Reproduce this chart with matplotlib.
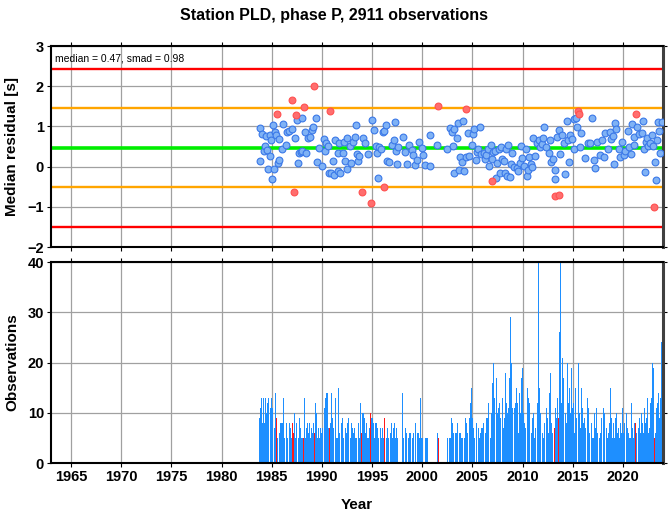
import matplotlib
matplotlib.use('Agg')
import matplotlib.pyplot as plt
import numpy as np

plt.rcParams['font.family'] = ['Liberation Sans', 'DejaVu Sans']

# Summary numbers
median_res = 0.47
smad = 0.98

# Monthly medians of residuals (decimal year, seconds)
blue_year = [1983.8, 1983.8, 1984.0, 1984.2, 1984.3, 1984.4, 1984.5, 1984.6, 1984.8, 1984.8,
             1984.9, 1985.0, 1985.1, 1985.2, 1985.3, 1985.4, 1985.6, 1985.7, 1985.7, 1986.0,
             1986.1, 1986.4, 1986.5, 1986.7, 1987.0, 1987.3, 1987.5, 1987.6, 1987.7, 1987.9,
             1988.0, 1988.0, 1988.3, 1988.4, 1988.6, 1988.8, 1989.0, 1989.1, 1989.4, 1989.5,
             1989.7, 1990.0, 1990.2, 1990.3, 1990.4, 1990.6, 1990.7, 1990.9, 1991.1, 1991.2,
             1991.3, 1991.6, 1991.6, 1991.7, 1991.8, 1992.1, 1992.2, 1992.3, 1992.5, 1992.5,
             1992.8, 1992.9, 1993.1, 1993.3, 1993.4, 1993.5, 1993.6, 1993.7, 1994.1, 1994.3,
             1994.6, 1995.0, 1995.2, 1995.4, 1995.5, 1995.6, 1995.7, 1995.9, 1996.1, 1996.2,
             1996.4, 1996.5, 1996.7, 1997.0, 1997.2, 1997.3, 1997.4, 1997.5, 1997.6, 1998.1,
             1998.3, 1998.5, 1998.7, 1999.0, 1999.1, 1999.3, 1999.5, 1999.7, 2000.0, 2000.1,
             2000.3, 2000.8, 2000.8, 2001.5,
             2002.5, 2002.8, 2003.0, 2003.1, 2003.2, 2003.2, 2003.5, 2003.6, 2003.7, 2003.8,
             2004.0, 2004.1, 2004.2, 2004.4, 2004.6, 2004.7, 2005.0, 2005.1, 2005.2, 2005.4,
             2005.5, 2005.6, 2005.8, 2005.9, 2006.2, 2006.3, 2006.4, 2006.6, 2006.7, 2006.9,
             2007.0, 2007.1, 2007.3, 2007.4, 2007.5, 2007.7, 2007.8, 2007.9, 2008.0, 2008.2,
             2008.3, 2008.4, 2008.5, 2008.6, 2008.8, 2008.9, 2009.0, 2009.2, 2009.4, 2009.5,
             2009.7, 2009.8, 2009.9, 2010.1, 2010.3, 2010.4, 2010.5, 2010.6, 2010.8, 2010.9,
             2011.0, 2011.2, 2011.4, 2011.6, 2011.7, 2011.9, 2012.0, 2012.1, 2012.3, 2012.6,
             2012.7, 2012.8, 2013.0, 2013.2, 2013.2, 2013.4, 2013.6, 2013.7, 2013.9, 2014.1,
             2014.2, 2014.4, 2014.5, 2014.6, 2014.7, 2014.9, 2015.1, 2015.1, 2015.3, 2015.4,
             2015.7, 2015.8, 2016.2, 2016.5, 2016.7, 2016.9, 2017.1, 2017.2, 2017.4, 2017.7,
             2017.9, 2018.1, 2018.2, 2018.5, 2018.7, 2018.8, 2019.0, 2019.1, 2019.2, 2019.3,
             2019.6, 2019.7, 2019.9, 2020.1, 2020.2, 2020.5, 2020.6, 2020.8, 2020.9, 2021.1,
             2021.1, 2021.4, 2021.6, 2021.9, 2022.0, 2022.1, 2022.2, 2022.3, 2022.4, 2022.5,
             2022.7, 2022.9, 2023.0, 2023.2, 2023.3, 2023.4, 2023.5, 2023.6, 2023.7, 2023.9]
blue_res = [0.95, 0.15, 0.81, 0.40, 0.51, 0.76, 0.41, -0.05, 0.26, 0.78,
            0.66, -0.30, 1.04, -0.05, 0.87, 0.78, 0.10, 0.16, 0.68, 0.43,
            1.06, 0.54, 0.87, 0.89, 0.94, 0.70, 1.15, 0.10, 0.33, 0.36,
            0.40, 1.22, 0.87, 0.33, 0.70, 0.73, 0.91, 0.99, 1.21, 0.12,
            0.47, 0.02, 0.68, 0.40, 0.58, 0.51, -0.15, -0.17, 0.14, -0.20,
            0.65, 0.33, -0.11, 0.60, -0.15, 0.34, 0.62, 0.15, 0.72, -0.07,
            0.51, 0.08, 0.61, 0.73, 1.04, 0.31, 0.15, 0.27, 0.70, 0.60,
            0.32, 1.16, 0.91, 0.51, 0.33, -0.29, 0.48, 0.43, 0.86, 0.89,
            1.04, 0.14, 0.12, 0.54, 0.66, 1.12, 0.40, 0.06, 0.48, 0.73,
            0.37, 0.07, 0.54, 0.41, 0.29, 0.03, 0.16, 0.62, 0.47, 0.29,
            0.04, 0.02, 0.78, 0.55,
            0.43, 0.97, 0.87, 0.52, -0.17, 0.94, 0.72, 1.09, -0.08, 0.23,
            0.12, 1.14, -0.11, 0.25, 0.83, 0.27, 0.53, 0.81, 0.93, 0.16,
            0.37, 0.43, 0.99, 0.31, 0.35, 0.20, 0.29, 0.43, 0.02, 0.53,
            0.18, 0.37, 0.40, -0.29, 0.08, 0.43, -0.17, 0.48, 0.18, 0.15,
            -0.17, 0.43, -0.23, 0.54, -0.25, 0.07, 0.33, 0.00, -0.04, -0.10,
            0.10, 0.51, 0.21, 0.02, 0.43, -0.23, -0.08, 0.25, 0.07, 0.00,
            0.71, 0.26, 0.60, 0.66, 0.50, 0.56, 0.70, 0.98, 0.48, 0.35,
            0.66, 0.12, 0.19, -0.08, -0.32, 0.73, 0.91, 0.31, 0.79, 0.58,
            -0.18, 1.14, 0.66, 0.12, 0.79, 0.68, 1.18, 0.43, 1.21, 0.99,
            0.48, 0.83, 0.22, 0.58, 0.60, 1.21, 0.16, -0.04, 0.62, 0.29,
            0.66, 0.25, 0.84, 0.45, 0.87, 0.68, 0.75, 0.07, 1.09, 0.93,
            0.43, 0.25, 0.62, 0.29, 0.40, 0.89, 0.48, 0.31, 1.06, 0.73,
            0.54, 0.98, 0.81, 0.83, 1.14, 0.43, -0.14, 0.62, 0.72, 0.51,
            0.60, 0.78, 0.51, 0.12, -0.33, 0.65, 1.12, 0.89, 0.33, 1.12]

# Outlier months
red_year = [1985.5, 1987.0, 1987.2, 1987.4, 1988.2, 1989.2, 1990.8, 1994.0, 1994.9, 1996.2,
            2001.6, 2004.4, 2007.0, 2013.2, 2013.6, 2015.5, 2015.6, 2021.3, 2023.1]
red_res = [1.30, 1.66, -0.64, 1.28, 1.48, 2.01, 1.39, -0.63, -0.90, -0.50,
           1.52, 1.43, -0.37, -0.74, -0.70, 1.39, 1.32, 1.31, -1.00]

# Observations per month, Jan..Dec
obs_years = list(range(1983, 2024))
obs_counts = [
    [0, 0, 0, 0, 0, 0, 0, 0, 0, 9, 11, 13],        # 1983
    [8, 0, 13, 8, 13, 10, 5, 12, 13, 0, 11, 13],    # 1984
    [11, 5, 0, 7, 14, 9, 5, 13, 0, 6, 8, 8],        # 1985
    [8, 13, 13, 5, 0, 8, 5, 10, 0, 8, 7, 5],        # 1986
    [8, 0, 6, 10, 5, 8, 0, 7, 5, 9, 7, 5],          # 1987
    [5, 5, 0, 13, 5, 7, 8, 0, 6, 8, 5, 7],          # 1988
    [6, 8, 0, 6, 12, 10, 5, 0, 7, 5, 7, 6],         # 1989
    [7, 0, 9, 11, 13, 14, 14, 7, 9, 7, 8, 14],      # 1990
    [9, 7, 8, 0, 13, 5, 5, 15, 11, 6, 0, 8],        # 1991
    [9, 5, 10, 0, 7, 6, 8, 9, 5, 0, 5, 8],          # 1992
    [7, 6, 0, 7, 5, 5, 0, 8, 5, 5, 12, 6],          # 1993
    [10, 10, 0, 9, 6, 8, 5, 5, 7, 0, 10, 9],        # 1994
    [9, 8, 5, 0, 8, 8, 7, 5, 0, 6, 7, 5],           # 1995
    [7, 5, 9, 8, 0, 5, 7, 5, 0, 7, 6, 8],           # 1996
    [5, 7, 8, 0, 5, 7, 5, 0, 0, 0, 0, 0],           # 1997
    [14, 5, 0, 5, 7, 6, 0, 5, 6, 6, 5, 0],          # 1998
    [5, 6, 0, 5, 8, 0, 6, 6, 5, 0, 13, 5],          # 1999
    [5, 0, 0, 5, 6, 5, 5, 0, 0, 0, 0, 0],           # 2000
    [0, 0, 0, 0, 0, 0, 6, 5, 0, 0, 0, 0],           # 2001
    [0, 0, 0, 0, 0, 0, 5, 0, 5, 5, 7, 9],           # 2002
    [8, 6, 0, 6, 5, 6, 8, 0, 6, 6, 0, 5],           # 2003
    [5, 0, 5, 9, 5, 8, 6, 0, 9, 12, 13, 15],        # 2004
    [9, 7, 5, 0, 8, 5, 0, 7, 5, 6, 7, 5],           # 2005
    [7, 8, 0, 6, 9, 10, 9, 12, 0, 5, 10, 13],       # 2006
    [16, 20, 13, 0, 17, 19, 10, 11, 12, 9, 0, 16],  # 2007
    [13, 7, 9, 18, 12, 0, 10, 11, 17, 29, 20, 11],  # 2008
    [9, 0, 11, 12, 15, 9, 12, 6, 14, 10, 17, 0],    # 2009
    [19, 10, 8, 7, 0, 15, 17, 13, 12, 0, 6, 9],     # 2010
    [7, 10, 5, 7, 0, 12, 11, 40, 15, 10, 0, 6],     # 2011
    [6, 5, 8, 0, 11, 9, 13, 6, 14, 18, 8, 6],       # 2012
    [7, 0, 7, 11, 9, 13, 0, 9, 26, 40, 12, 21],     # 2013
    [13, 17, 0, 10, 8, 20, 12, 8, 15, 10, 19, 11],  # 2014
    [7, 12, 6, 15, 9, 0, 20, 9, 10, 7, 15, 11],     # 2015
    [8, 5, 9, 7, 0, 13, 11, 9, 6, 0, 8, 5],         # 2016
    [5, 0, 10, 7, 11, 6, 0, 5, 5, 6, 9, 0],         # 2017
    [11, 6, 10, 0, 7, 5, 6, 8, 6, 15, 9, 5],        # 2018
    [8, 5, 0, 9, 10, 6, 7, 5, 0, 8, 6, 11],         # 2019
    [6, 8, 5, 0, 10, 7, 6, 5, 9, 5, 12, 7],         # 2020
    [5, 8, 6, 8, 6, 0, 7, 9, 5, 6, 10, 8],          # 2021
    [6, 11, 0, 8, 9, 13, 6, 7, 10, 12, 13, 20],     # 2022
    [19, 5, 18, 6, 11, 12, 14, 9, 10, 13, 24, 15],  # 2023
]
red_months = ['1985-06', '1987-01', '1987-03', '1988-02', '1989-04', '1990-10', '1993-12',
              '1994-11', '1996-03', '2001-08', '2004-05', '2006-12', '2013-03', '2013-08',
              '2015-08', '2021-04', '2023-02']

# month centres
bar_x, bar_h, bar_c = [], [], []
for yr, row in zip(obs_years, obs_counts):
    for m, n in enumerate(row):
        if n == 0:
            continue
        bar_x.append(yr + (m + 0.5) / 12)
        bar_h.append(n)
        bar_c.append('#ff1a1a' if '%d-%02d' % (yr, m + 1) in red_months else '#1e8fff')

fig = plt.figure(figsize=(6.69, 5.11), dpi=100)
ax1 = fig.add_axes([0.0762, 0.5166, 0.9148, 0.3933])
ax2 = fig.add_axes([0.0762, 0.0939, 0.9148, 0.3933])

xt = np.arange(1965, 2021, 5)
for ax in (ax1, ax2):
    ax.set_xlim(1963, 2024)
    ax.set_xticks(xt)
    ax.grid(True, color='#a0a0a0', lw=0.9)
    ax.set_axisbelow(True)
    ax.tick_params(direction='out', length=3, width=0.8, top=True, right=True,
                   labelsize=10.5, pad=2)
    for s in ('left', 'bottom', 'top'):
        ax.spines[s].set_linewidth(1.5)
        ax.spines[s].set_color('black')
    ax.spines['right'].set_linewidth(2.2)
    ax.spines['right'].set_color('#404040')

# top panel
ax1.set_ylim(-2, 3)
ax1.set_yticks(range(-2, 4))
ax1.set_xticklabels([])
ax1.axhline(median_res + 2 * smad, color='#ff0000', lw=1.7, zorder=2)
ax1.axhline(median_res - 2 * smad, color='#ff0000', lw=1.7, zorder=2)
ax1.axhline(median_res + smad, color='#ffa500', lw=1.7, zorder=2)
ax1.axhline(median_res - smad, color='#ffa500', lw=1.7, zorder=2)
ax1.axhline(median_res, color='#00ee00', lw=2.6, zorder=2)
ax1.scatter(blue_year, blue_res, s=24, facecolor='#7fb2f5', edgecolor='#3a78e8',
            linewidths=0.8, zorder=3)
ax1.scatter(red_year, red_res, s=24, facecolor='#ff6e6e', edgecolor='#ff5050',
            linewidths=0.8, zorder=3)
ax1.set_ylabel('Median residual [s]', fontsize=11, fontweight='bold', labelpad=6)
ax1.text(0.007, 0.965, 'median = %.2f, smad = %.2f' % (median_res, smad),
         transform=ax1.transAxes, ha='left', va='top', fontsize=7.5)
fig.suptitle('Station PLD, phase P, 2911 observations', x=0.5, y=0.985,
             fontsize=11.5, fontweight='bold')

# bottom panel
ax2.bar(bar_x, bar_h, width=0.09, color=bar_c, linewidth=0, zorder=2)
ax2.set_ylim(0, 40)
ax2.set_yticks(range(0, 41, 10))
ax2.set_ylabel('Observations', fontsize=11, fontweight='bold', labelpad=6)
ax2.set_xlabel('Year', fontsize=11, fontweight='bold', labelpad=10)

for ax in (ax1, ax2):
    for lab in ax.get_xticklabels() + ax.get_yticklabels():
        lab.set_fontweight('bold')

fig.savefig('out.png', dpi=100)
